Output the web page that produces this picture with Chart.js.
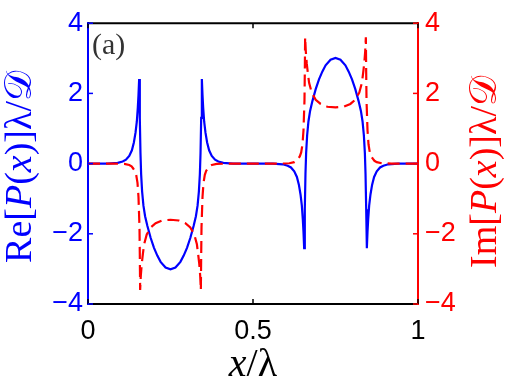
<!DOCTYPE html>
<html>
<head>
<meta charset="utf-8">
<script src="https://cdn.jsdelivr.net/npm/chart.js@4.4.1/dist/chart.umd.min.js"></script>
<style>
  html, body { margin: 0; padding: 0; background: #fff; }
</style>
</head>
<body>
<canvas id="chart" width="521" height="392"></canvas>
<script>
// Re[P(x)] (blue, left axis)
const reX = [0, 0.06, 0.09, 0.105, 0.115, 0.125, 0.133, 0.139, 0.144, 0.148,
  0.151, 0.153, 0.155, 0.157, 0.159, 0.161, 0.164, 0.168, 0.173, 0.18,
  0.19, 0.20, 0.21, 0.22, 0.235, 0.25, 0.265, 0.28, 0.29, 0.30,
  0.31, 0.32, 0.327, 0.332, 0.336, 0.339, 0.341, 0.343, 0.345, 0.347,
  0.349, 0.352, 0.356, 0.361, 0.367, 0.375, 0.385, 0.395, 0.41, 0.44, 0.5,
  0.56, 0.59, 0.605, 0.615, 0.625, 0.633, 0.639, 0.644, 0.648, 0.651,
  0.653, 0.655, 0.657, 0.659, 0.661, 0.664, 0.668, 0.673, 0.68, 0.69,
  0.70, 0.71, 0.72, 0.735, 0.75, 0.765, 0.78, 0.79, 0.80, 0.81,
  0.82, 0.827, 0.832, 0.836, 0.839, 0.841, 0.843, 0.845, 0.847, 0.849,
  0.852, 0.856, 0.861, 0.867, 0.875, 0.885, 0.895, 0.91, 0.94, 1];
const reY = [0, 0, 0.02, 0.06, 0.11, 0.22, 0.38, 0.6, 0.88, 1.2,
  1.6, 1.95, 2.41, 1.3, 0.3, -0.3, -0.8, -1.2, -1.5, -1.78,
  -2.12, -2.4, -2.62, -2.8, -2.96, -3.01, -2.96, -2.8, -2.62, -2.4,
  -2.12, -1.78, -1.5, -1.2, -0.8, -0.3, 0.3, 1.3, 2.41, 1.95,
  1.6, 1.2, 0.88, 0.6, 0.38, 0.22, 0.11, 0.06, 0.02, 0, 0,
  0, -0.02, -0.06, -0.11, -0.22, -0.38, -0.6, -0.88, -1.2, -1.6,
  -1.95, -2.41, -1.3, -0.3, 0.3, 0.8, 1.2, 1.5, 1.78, 2.12,
  2.4, 2.62, 2.8, 2.96, 3.01, 2.96, 2.8, 2.62, 2.4, 2.12,
  1.78, 1.5, 1.2, 0.8, 0.3, -0.3, -1.3, -2.41, -1.95, -1.6,
  -1.2, -0.88, -0.6, -0.38, -0.22, -0.11, -0.06, -0.02, 0, 0];

// Im[P(x)] (red dashed, right axis)
const imX = [0, 0.08, 0.11, 0.125, 0.132, 0.137, 0.142, 0.146, 0.150, 0.153,
  0.156, 0.157, 0.158, 0.160, 0.163, 0.166, 0.170, 0.178, 0.19, 0.205,
  0.225, 0.25, 0.275, 0.295, 0.31, 0.322, 0.330, 0.334, 0.337, 0.340,
  0.342, 0.343, 0.344, 0.347, 0.350, 0.354, 0.358, 0.363, 0.368, 0.375,
  0.39, 0.42, 0.5,
  0.58, 0.61, 0.625, 0.632, 0.637, 0.642, 0.646, 0.650, 0.653, 0.656,
  0.657, 0.658, 0.660, 0.663, 0.666, 0.670, 0.678, 0.69, 0.705, 0.725,
  0.75, 0.775, 0.795, 0.81, 0.822, 0.830, 0.834, 0.837, 0.840, 0.842,
  0.843, 0.844, 0.847, 0.850, 0.854, 0.858, 0.863, 0.868, 0.875, 0.89,
  0.92, 1];
const imY = [0, 0, -0.01, -0.04, -0.08, -0.14, -0.21, -0.32, -0.55, -0.95,
  -1.8, -2.6, -3.6, -3.2, -2.84, -2.6, -2.3, -2.02, -1.82, -1.7,
  -1.62, -1.6, -1.62, -1.7, -1.82, -2.02, -2.3, -2.6, -2.84, -3.2,
  -3.6, -2.6, -1.8, -0.95, -0.55, -0.32, -0.21, -0.14, -0.08, -0.04,
  -0.01, 0, 0,
  0, 0.01, 0.04, 0.08, 0.14, 0.21, 0.32, 0.55, 0.95, 1.8,
  2.6, 3.6, 3.2, 2.84, 2.6, 2.3, 2.02, 1.82, 1.7, 1.62,
  1.6, 1.62, 1.7, 1.82, 2.02, 2.3, 2.6, 2.84, 3.2, 3.6,
  2.6, 1.8, 0.95, 0.55, 0.32, 0.21, 0.14, 0.08, 0.04, 0.01,
  0, 0];

const xTicks = [0, 0.5, 1];
const yTicks = [-4, -2, 0, 2, 4];

const leftTitle = [["Re[", ""], ["P", "italic "], ["(", ""], ["x", "italic "], [")]λ/", ""], ["𝒟", ""]];
const rightTitle = [["Im[", ""], ["P", "italic "], ["(", ""], ["x", "italic "], [")]λ/", ""], ["𝒟", ""]];
const bottomTitle = [["x", "italic "], ["/λ", ""]];
const panelLabel = "(a)";

const BLUE = "#0000ff";
const RED = "#ff0000";
const tickFont = { family: "'Liberation Sans', Arial, sans-serif", size: 27 };
const serif = "'Liberation Serif', 'DejaVu Serif', serif";

const fmt = (v) => (v < 0 ? "\u2212" + Math.abs(v) : String(v));
const setTicks = (list) => (scale) => { scale.ticks = list.map((v) => ({ value: v })); };

function drawRich(ctx, parts, size, color) {
  let total = 0;
  parts.forEach((p) => {
    ctx.font = p[1] + size + "px " + serif;
    total += ctx.measureText(p[0]).width;
  });
  let u = -total / 2;
  ctx.fillStyle = color;
  ctx.textBaseline = "alphabetic";
  ctx.textAlign = "left";
  parts.forEach((p) => {
    ctx.font = p[1] + size + "px " + serif;
    ctx.fillText(p[0], u, 0);
    u += ctx.measureText(p[0]).width;
  });
}

const decor = {
  id: "decor",
  afterDraw(chart) {
    const { ctx, chartArea: a, scales } = chart;
    ctx.save();
    // top frame
    ctx.lineWidth = 2;
    ctx.strokeStyle = "#000";
    ctx.beginPath();
    ctx.moveTo(a.left, a.top);
    ctx.lineTo(a.right, a.top);
    ctx.stroke();

    // inward tick marks
    const tl = 5;
    ctx.lineWidth = 1.5;
    xTicks.forEach((v) => {
      const px = scales.x.getPixelForValue(v);
      ctx.beginPath();
      ctx.moveTo(px, a.bottom);
      ctx.lineTo(px, a.bottom - tl);
      ctx.moveTo(px, a.top);
      ctx.lineTo(px, a.top + tl);
      ctx.stroke();
    });
    yTicks.forEach((v) => {
      let py = scales.yLeft.getPixelForValue(v);
      ctx.strokeStyle = BLUE;
      ctx.beginPath();
      ctx.moveTo(a.left, py);
      ctx.lineTo(a.left + tl, py);
      ctx.stroke();
      py = scales.yRight.getPixelForValue(v);
      ctx.strokeStyle = RED;
      ctx.beginPath();
      ctx.moveTo(a.right, py);
      ctx.lineTo(a.right - tl, py);
      ctx.stroke();
    });

    // axis titles
    ctx.save();
    ctx.translate(31, 167);
    ctx.rotate(-Math.PI / 2);
    drawRich(ctx, leftTitle, 38, BLUE);
    ctx.restore();

    ctx.save();
    ctx.translate(496, 172);
    ctx.rotate(-Math.PI / 2);
    drawRich(ctx, rightTitle, 38, RED);
    ctx.restore();

    ctx.save();
    ctx.translate(253, 376);
    drawRich(ctx, bottomTitle, 40, "#000");
    ctx.restore();

    // panel label
    ctx.font = "30px " + serif;
    ctx.fillStyle = "#333";
    ctx.textAlign = "left";
    ctx.textBaseline = "alphabetic";
    ctx.fillText(panelLabel, 92, 54);
    ctx.restore();
  },
};

const ctx = document.getElementById("chart");

new Chart(ctx, {
  type: "scatter",
  data: {
    datasets: [
      {
        label: "Im[P(x)]",
        data: imX.map((x, i) => ({ x: x, y: imY[i] })),
        yAxisID: "yRight",
        showLine: true,
        borderColor: RED,
        borderWidth: 2.2,
        borderDash: [12, 6],
        pointRadius: 0,
        tension: 0,
      },
      {
        label: "Re[P(x)]",
        data: reX.map((x, i) => ({ x: x, y: reY[i] })),
        yAxisID: "yLeft",
        showLine: true,
        borderColor: BLUE,
        borderWidth: 2.2,
        pointRadius: 0,
        tension: 0,
      },
    ],
  },
  options: {
    responsive: false,
    animation: false,
    devicePixelRatio: 1,
    layout: { padding: { top: 23, left: 0, right: 0, bottom: 0 } },
    plugins: {
      legend: { display: false },
      tooltip: { enabled: false },
    },
    scales: {
      x: {
        type: "linear",
        position: "bottom",
        min: 0,
        max: 1,
        afterBuildTicks: setTicks(xTicks),
        afterFit: (s) => { s.height = 88; },
        grid: { display: false, drawTicks: false },
        border: { color: "#000", width: 2 },
        ticks: { font: tickFont, color: "#000", padding: 11, maxRotation: 0, callback: fmt },
      },
      yLeft: {
        type: "linear",
        position: "left",
        min: -4,
        max: 4,
        afterBuildTicks: setTicks(yTicks),
        afterFit: (s) => { s.width = 88; },
        grid: { display: false, drawTicks: false },
        border: { color: BLUE, width: 2 },
        ticks: { font: tickFont, color: BLUE, padding: 5, callback: fmt },
      },
      yRight: {
        type: "linear",
        position: "right",
        min: -4,
        max: 4,
        afterBuildTicks: setTicks(yTicks),
        afterFit: (s) => { s.width = 103; },
        grid: { display: false, drawTicks: false },
        border: { color: RED, width: 2 },
        ticks: { font: tickFont, color: RED, padding: 7, callback: fmt },
      },
    },
  },
  plugins: [decor],
});
</script>
</body>
</html>
